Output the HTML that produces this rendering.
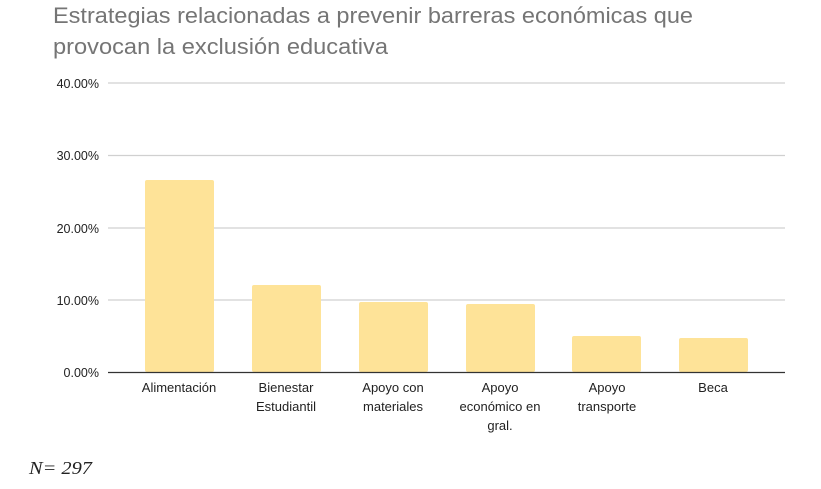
<!DOCTYPE html>
<html><head><meta charset="utf-8"><style>
html,body{margin:0;padding:0;background:#fff;width:821px;height:489px;overflow:hidden}
svg{display:block}
</style></head><body>
<svg width="821" height="489" xmlns="http://www.w3.org/2000/svg">
<g font-family="Liberation Sans, DejaVu Sans, sans-serif">
<text x="53" y="23" font-size="22.5" fill="#757575" textLength="640" lengthAdjust="spacingAndGlyphs">Estrategias relacionadas a prevenir barreras económicas que</text>
<text x="53" y="54" font-size="22.5" fill="#757575" textLength="335" lengthAdjust="spacingAndGlyphs">provocan la exclusión educativa</text>
<g stroke="#d0d0d0" stroke-width="1.3">
<line x1="108" y1="83" x2="785" y2="83"/>
<line x1="108" y1="155.5" x2="785" y2="155.5"/>
<line x1="108" y1="228" x2="785" y2="228"/>
<line x1="108" y1="300" x2="785" y2="300"/>
</g>
<g font-size="12.5" fill="#222" text-anchor="end">
<text x="99" y="88">40.00%</text>
<text x="99" y="160">30.00%</text>
<text x="99" y="233">20.00%</text>
<text x="99" y="305">10.00%</text>
<text x="99" y="377">0.00%</text>
</g>
<g fill="#fee398">
<rect x="145" y="180" width="69" height="192" rx="2"/>
<rect x="252" y="285" width="69" height="87" rx="2"/>
<rect x="359" y="302" width="69" height="70" rx="2"/>
<rect x="466" y="304" width="69" height="68" rx="2"/>
<rect x="572" y="336" width="69" height="36" rx="2"/>
<rect x="679" y="338" width="69" height="34" rx="2"/>
</g>
<line x1="108" y1="372.5" x2="785" y2="372.5" stroke="#333" stroke-width="1.3"/>
<g font-size="13" fill="#222" text-anchor="middle">
<text x="179" y="392">Alimentación</text>
<text x="286" y="392">Bienestar</text><text x="286" y="411">Estudiantil</text>
<text x="393" y="392">Apoyo con</text><text x="393" y="411">materiales</text>
<text x="500" y="392">Apoyo</text><text x="500" y="411">económico en</text><text x="500" y="430">gral.</text>
<text x="607" y="392">Apoyo</text><text x="607" y="411">transporte</text>
<text x="713" y="392">Beca</text>
</g>
</g>
<text x="29" y="474" font-family="Liberation Serif, serif" font-style="italic" font-size="18" fill="#222" textLength="63" lengthAdjust="spacingAndGlyphs">N= 297</text>
</svg>
</body></html>
